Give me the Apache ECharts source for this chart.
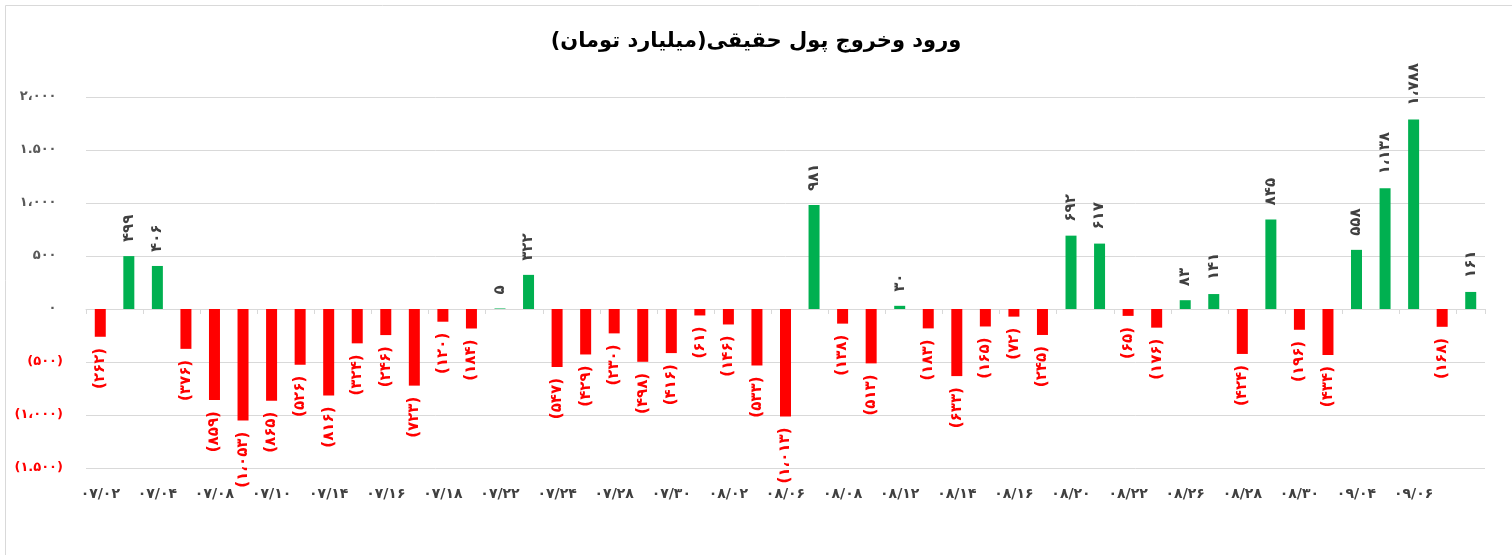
<!DOCTYPE html>
<html>
<head>
<meta charset="utf-8">
<script src="https://cdn.jsdelivr.net/npm/echarts@6/dist/echarts.min.js"></script>
<style>
html,body{margin:0;padding:0;background:#fff;}
#chart{width:1512px;height:555px;}
</style>
</head>
<body>
<div id="chart"></div>
<script>
const titleText = 'ورود وخروج پول حقیقی(میلیارد تومان)';
const categories = ['۰۷/۰۲','۰۷/۰۳','۰۷/۰۴','۰۷/۰۷','۰۷/۰۸','۰۷/۰۹','۰۷/۱۰','۰۷/۱۳','۰۷/۱۴','۰۷/۱۵','۰۷/۱۶','۰۷/۱۷','۰۷/۱۸','۰۷/۲۱','۰۷/۲۲','۰۷/۲۳','۰۷/۲۴','۰۷/۲۷','۰۷/۲۸','۰۷/۲۹','۰۷/۳۰','۰۸/۰۱','۰۸/۰۲','۰۸/۰۵','۰۸/۰۶','۰۸/۰۷','۰۸/۰۸','۰۸/۱۱','۰۸/۱۲','۰۸/۱۳','۰۸/۱۴','۰۸/۱۵','۰۸/۱۶','۰۸/۱۹','۰۸/۲۰','۰۸/۲۱','۰۸/۲۲','۰۸/۲۵','۰۸/۲۶','۰۸/۲۷','۰۸/۲۸','۰۸/۲۹','۰۸/۳۰','۰۹/۰۳','۰۹/۰۴','۰۹/۰۵','۰۹/۰۶','۰۹/۰۷','۰۹/۰۸'];
const values = [-262,499,406,-376,-859,-1053,-865,-526,-816,-324,-246,-723,-120,-184,5,322,-547,-429,-230,-498,-416,-61,-146,-533,-1013,981,-138,-513,30,-183,-633,-165,-72,-245,692,617,-65,-176,83,141,-424,845,-196,-434,558,1138,1788,-168,161];
const yTicks = [-1500,-1000,-500,0,500,1000,1500,2000];
const yTickLabels = ['(۱.۵۰۰)','(۱،۰۰۰)','(۵۰۰)','۰','۵۰۰','۱،۰۰۰','۱.۵۰۰','۲،۰۰۰'];

const FA = '۰۱۲۳۴۵۶۷۸۹';
function fa(n){
  let s = String(Math.abs(n));
  if (s.length > 3) s = s.slice(0, s.length-3) + '،' + s.slice(s.length-3);
  s = s.replace(/\d/g, d => FA[+d]);
  return n < 0 ? '(' + s + ')' : s;
}
const posData = values.map(v => v >= 0 ? v : '-');
const negData = values.map(v => v < 0 ? v : '-');

const chart = echarts.init(document.getElementById('chart'));
const font = '"DejaVu Sans", sans-serif';
chart.setOption({
  animation: false,
  backgroundColor: '#fff',
  title: {
    text: titleText, left: 'center', top: 26,
    textStyle: {fontFamily: font, fontSize: 21, fontWeight: 'bold', color: '#000'}
  },
  graphic: [{
    type: 'rect', left: 3, top: 3, shape: {width: 1520, height: 550},
    style: {fill: 'none', stroke: '#d9d9d9', lineWidth: 1}, silent: true
  }],
  grid: {left: 86, right: 27, top: 97, bottom: 87, containLabel: false},
  xAxis: [{
    type: 'category', data: categories,
    axisLine: {onZero: true, lineStyle: {color: '#d9d9d9', width: 1}},
    axisTick: {show: true, inside: false, length: 5, lineStyle: {color: '#d9d9d9'}},
    axisLabel: {show: false},
    splitLine: {show: false}
  }, {
    type: 'category', data: categories, position: 'bottom',
    axisLine: {show: false, onZero: false}, axisTick: {show: false},
    axisLabel: {
      show: true, margin: 19,
      interval: (i) => i % 2 === 0 && i < 48,
      fontFamily: font, fontSize: 14, fontWeight: 'bold', color: '#404040'
    },
    splitLine: {show: false}
  }],
  yAxis: {
    type: 'value', min: -1500, max: 2000, interval: 500,
    axisLine: {show: false}, axisTick: {show: false},
    splitLine: {lineStyle: {color: '#d9d9d9', width: 1}},
    axisLabel: {
      margin: 23,
      fontFamily: font, fontSize: 13, fontWeight: 'bold',
      formatter: (v) => {
        const i = yTicks.indexOf(v);
        const t = i >= 0 ? yTickLabels[i] : '';
        return v >= 0 ? t + '\u2002' : t;
      },
      color: (v) => (+v < 0 ? '#ff0000' : '#595959')
    }
  },
  series: [{
    type: 'bar', name: 'pos', data: posData, xAxisIndex: 0,
    barWidth: 11, barGap: '-100%',
    itemStyle: {color: '#00b050'},
    label: {
      show: true, position: 'top', rotate: 90, align: 'left', verticalAlign: 'middle',
      distance: 14, formatter: (p) => fa(p.value),
      fontFamily: font, fontSize: 15, fontWeight: 'bold', color: '#404040'
    }
  }, {
    type: 'bar', name: 'neg', data: negData, xAxisIndex: 0,
    barWidth: 11, barGap: '-100%',
    itemStyle: {color: '#ff0000'},
    label: {
      show: true, position: 'bottom', rotate: 90, align: 'right', verticalAlign: 'middle',
      distance: 11, formatter: (p) => fa(p.value),
      fontFamily: font, fontSize: 15, fontWeight: 'bold', color: '#ff0000'
    }
  }]
});
</script>
</body>
</html>
